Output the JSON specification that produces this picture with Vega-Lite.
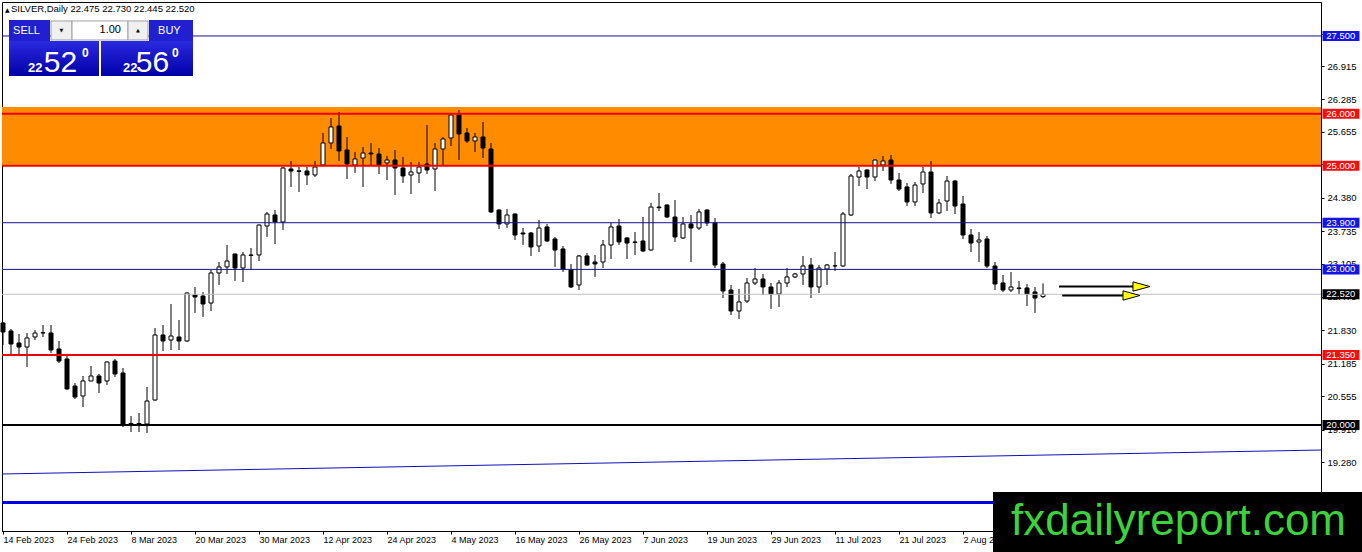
{
  "$schema": "https://vega.github.io/schema/vega-lite/v6.json",
  "width": 1319,
  "height": 529,
  "autosize": {"type": "none"},
  "padding": {"left": 2, "top": 2, "right": 41, "bottom": 21},
  "background": "white",
  "config": {
    "view": {"stroke": "#000000", "strokeWidth": 1},
    "axis": {"labelFont": "Liberation Sans", "labelColor": "#000000", "tickColor": "#000000", "domainColor": "#000000", "tickSize": 3, "grid": false, "labelOverlap": false, "labelFlush": false}
  },
  "datasets": {
    "candles": [
      {"n":0,"d":"2023-02-14","o":21.967,"h":21.986,"l":21.543,"c":21.793},
      {"n":1,"d":"2023-02-15","o":21.813,"h":21.851,"l":21.369,"c":21.562},
      {"n":2,"d":"2023-02-16","o":21.581,"h":21.755,"l":21.369,"c":21.504},
      {"n":3,"d":"2023-02-17","o":21.504,"h":21.774,"l":21.119,"c":21.678},
      {"n":4,"d":"2023-02-20","o":21.697,"h":21.832,"l":21.639,"c":21.774},
      {"n":5,"d":"2023-02-21","o":21.774,"h":21.928,"l":21.697,"c":21.780},
      {"n":6,"d":"2023-02-22","o":21.774,"h":21.928,"l":21.389,"c":21.446},
      {"n":7,"d":"2023-02-23","o":21.466,"h":21.620,"l":21.196,"c":21.234},
      {"n":8,"d":"2023-02-24","o":21.273,"h":21.350,"l":20.680,"c":20.695},
      {"n":9,"d":"2023-02-27","o":20.752,"h":20.810,"l":20.502,"c":20.540},
      {"n":10,"d":"2023-02-28","o":20.560,"h":20.945,"l":20.347,"c":20.849},
      {"n":11,"d":"2023-03-01","o":20.849,"h":21.138,"l":20.840,"c":20.945},
      {"n":12,"d":"2023-03-02","o":20.945,"h":20.984,"l":20.617,"c":20.810},
      {"n":13,"d":"2023-03-03","o":20.849,"h":21.225,"l":20.772,"c":21.215},
      {"n":14,"d":"2023-03-06","o":21.234,"h":21.273,"l":20.926,"c":20.984},
      {"n":15,"d":"2023-03-07","o":21.003,"h":21.099,"l":19.960,"c":20.000},
      {"n":16,"d":"2023-03-08","o":20.000,"h":20.174,"l":19.866,"c":20.030},
      {"n":17,"d":"2023-03-09","o":20.030,"h":20.232,"l":19.866,"c":20.010},
      {"n":18,"d":"2023-03-10","o":20.020,"h":20.733,"l":19.846,"c":20.463},
      {"n":19,"d":"2023-03-13","o":20.482,"h":21.871,"l":20.470,"c":21.736},
      {"n":20,"d":"2023-03-14","o":21.736,"h":21.928,"l":21.427,"c":21.620},
      {"n":21,"d":"2023-03-15","o":21.639,"h":22.333,"l":21.446,"c":21.716},
      {"n":22,"d":"2023-03-16","o":21.697,"h":22.025,"l":21.446,"c":21.620},
      {"n":23,"d":"2023-03-17","o":21.620,"h":22.555,"l":21.601,"c":22.545},
      {"n":24,"d":"2023-03-20","o":22.507,"h":22.661,"l":22.160,"c":22.468},
      {"n":25,"d":"2023-03-21","o":22.487,"h":22.565,"l":22.083,"c":22.333},
      {"n":26,"d":"2023-03-22","o":22.352,"h":22.989,"l":22.198,"c":22.931},
      {"n":27,"d":"2023-03-23","o":22.931,"h":23.143,"l":22.700,"c":23.047},
      {"n":28,"d":"2023-03-24","o":23.047,"h":23.471,"l":22.912,"c":23.162},
      {"n":29,"d":"2023-03-27","o":23.297,"h":23.300,"l":22.777,"c":23.027},
      {"n":30,"d":"2023-03-28","o":23.027,"h":23.336,"l":22.757,"c":23.278},
      {"n":31,"d":"2023-03-29","o":23.278,"h":23.413,"l":22.989,"c":23.270},
      {"n":32,"d":"2023-03-30","o":23.278,"h":23.866,"l":23.162,"c":23.856},
      {"n":33,"d":"2023-03-31","o":23.837,"h":24.107,"l":23.625,"c":24.068},
      {"n":34,"d":"2023-04-03","o":24.049,"h":24.145,"l":23.490,"c":23.914},
      {"n":35,"d":"2023-04-04","o":23.914,"h":24.974,"l":23.760,"c":24.955},
      {"n":36,"d":"2023-04-05","o":24.936,"h":25.090,"l":24.589,"c":24.897},
      {"n":37,"d":"2023-04-06","o":24.900,"h":24.974,"l":24.492,"c":24.890},
      {"n":38,"d":"2023-04-10","o":24.897,"h":24.974,"l":24.627,"c":24.820},
      {"n":39,"d":"2023-04-11","o":24.820,"h":25.090,"l":24.781,"c":24.974},
      {"n":40,"d":"2023-04-12","o":25.013,"h":25.630,"l":25.000,"c":25.437},
      {"n":41,"d":"2023-04-13","o":25.437,"h":25.919,"l":25.321,"c":25.746},
      {"n":42,"d":"2023-04-14","o":25.765,"h":26.035,"l":25.090,"c":25.283},
      {"n":43,"d":"2023-04-17","o":25.302,"h":25.553,"l":24.743,"c":25.032},
      {"n":44,"d":"2023-04-18","o":25.013,"h":25.264,"l":24.859,"c":25.129},
      {"n":45,"d":"2023-04-19","o":25.148,"h":25.360,"l":24.589,"c":25.244},
      {"n":46,"d":"2023-04-20","o":25.244,"h":25.437,"l":25.013,"c":25.225},
      {"n":47,"d":"2023-04-21","o":25.225,"h":25.341,"l":24.839,"c":25.013},
      {"n":48,"d":"2023-04-24","o":25.052,"h":25.187,"l":24.724,"c":25.109},
      {"n":49,"d":"2023-04-25","o":25.109,"h":25.302,"l":24.435,"c":24.955},
      {"n":50,"d":"2023-04-26","o":24.955,"h":25.167,"l":24.666,"c":24.801},
      {"n":51,"d":"2023-04-27","o":24.820,"h":25.071,"l":24.454,"c":24.878},
      {"n":52,"d":"2023-04-28","o":24.859,"h":25.071,"l":24.666,"c":24.974},
      {"n":53,"d":"2023-05-01","o":25.032,"h":25.784,"l":24.839,"c":24.917},
      {"n":54,"d":"2023-05-02","o":24.936,"h":25.437,"l":24.512,"c":25.321},
      {"n":55,"d":"2023-05-03","o":25.321,"h":25.553,"l":25.013,"c":25.514},
      {"n":56,"d":"2023-05-04","o":25.534,"h":26.016,"l":25.379,"c":25.977},
      {"n":57,"d":"2023-05-05","o":25.977,"h":26.073,"l":25.109,"c":25.611},
      {"n":58,"d":"2023-05-08","o":25.630,"h":25.726,"l":25.437,"c":25.476},
      {"n":59,"d":"2023-05-09","o":25.476,"h":25.630,"l":25.264,"c":25.553},
      {"n":60,"d":"2023-05-10","o":25.553,"h":25.842,"l":25.148,"c":25.341},
      {"n":61,"d":"2023-05-11","o":25.321,"h":25.437,"l":24.088,"c":24.107},
      {"n":62,"d":"2023-05-12","o":24.145,"h":24.160,"l":23.779,"c":23.876},
      {"n":63,"d":"2023-05-15","o":23.876,"h":24.165,"l":23.798,"c":24.049},
      {"n":64,"d":"2023-05-16","o":24.068,"h":24.080,"l":23.567,"c":23.663},
      {"n":65,"d":"2023-05-17","o":23.702,"h":23.798,"l":23.471,"c":23.683},
      {"n":66,"d":"2023-05-18","o":23.702,"h":23.721,"l":23.259,"c":23.432},
      {"n":67,"d":"2023-05-19","o":23.451,"h":23.953,"l":23.336,"c":23.798},
      {"n":68,"d":"2023-05-22","o":23.818,"h":23.876,"l":23.529,"c":23.548},
      {"n":69,"d":"2023-05-23","o":23.586,"h":23.625,"l":23.047,"c":23.374},
      {"n":70,"d":"2023-05-24","o":23.394,"h":23.451,"l":22.950,"c":23.008},
      {"n":71,"d":"2023-05-25","o":22.989,"h":23.104,"l":22.642,"c":22.661},
      {"n":72,"d":"2023-05-26","o":22.700,"h":23.278,"l":22.603,"c":23.259},
      {"n":73,"d":"2023-05-29","o":23.259,"h":23.316,"l":23.070,"c":23.085},
      {"n":74,"d":"2023-05-30","o":23.143,"h":23.278,"l":22.854,"c":23.104},
      {"n":75,"d":"2023-05-31","o":23.143,"h":23.567,"l":23.027,"c":23.471},
      {"n":76,"d":"2023-06-01","o":23.471,"h":23.895,"l":23.201,"c":23.818},
      {"n":77,"d":"2023-06-02","o":23.837,"h":23.972,"l":23.471,"c":23.529},
      {"n":78,"d":"2023-06-05","o":23.606,"h":23.625,"l":23.201,"c":23.509},
      {"n":79,"d":"2023-06-06","o":23.529,"h":23.721,"l":23.278,"c":23.520},
      {"n":80,"d":"2023-06-07","o":23.548,"h":24.010,"l":23.336,"c":23.355},
      {"n":81,"d":"2023-06-08","o":23.374,"h":24.281,"l":23.360,"c":24.203},
      {"n":82,"d":"2023-06-09","o":24.203,"h":24.473,"l":24.126,"c":24.190},
      {"n":83,"d":"2023-06-12","o":24.242,"h":24.250,"l":23.991,"c":24.010},
      {"n":84,"d":"2023-06-13","o":24.010,"h":24.338,"l":23.529,"c":23.625},
      {"n":85,"d":"2023-06-14","o":23.606,"h":24.010,"l":23.586,"c":23.876},
      {"n":86,"d":"2023-06-15","o":23.876,"h":24.049,"l":23.143,"c":23.798},
      {"n":87,"d":"2023-06-16","o":23.798,"h":24.165,"l":23.760,"c":24.107},
      {"n":88,"d":"2023-06-19","o":24.145,"h":24.160,"l":23.837,"c":23.895},
      {"n":89,"d":"2023-06-20","o":23.895,"h":23.991,"l":23.027,"c":23.085},
      {"n":90,"d":"2023-06-21","o":23.104,"h":23.143,"l":22.449,"c":22.584},
      {"n":91,"d":"2023-06-22","o":22.603,"h":22.700,"l":22.121,"c":22.198},
      {"n":92,"d":"2023-06-23","o":22.198,"h":22.622,"l":22.044,"c":22.372},
      {"n":93,"d":"2023-06-26","o":22.391,"h":22.834,"l":22.352,"c":22.738},
      {"n":94,"d":"2023-06-27","o":22.738,"h":23.027,"l":22.700,"c":22.815},
      {"n":95,"d":"2023-06-28","o":22.815,"h":22.912,"l":22.507,"c":22.661},
      {"n":96,"d":"2023-06-29","o":22.661,"h":22.738,"l":22.237,"c":22.526},
      {"n":97,"d":"2023-06-30","o":22.526,"h":22.796,"l":22.275,"c":22.738},
      {"n":98,"d":"2023-07-03","o":22.738,"h":23.027,"l":22.661,"c":22.854},
      {"n":99,"d":"2023-07-04","o":22.854,"h":22.931,"l":22.834,"c":22.912},
      {"n":100,"d":"2023-07-05","o":22.912,"h":23.259,"l":22.700,"c":23.066},
      {"n":101,"d":"2023-07-06","o":23.085,"h":23.220,"l":22.449,"c":22.661},
      {"n":102,"d":"2023-07-07","o":22.661,"h":23.085,"l":22.545,"c":23.027},
      {"n":103,"d":"2023-07-10","o":23.008,"h":23.104,"l":22.700,"c":23.085},
      {"n":104,"d":"2023-07-11","o":23.066,"h":23.336,"l":22.969,"c":23.070},
      {"n":105,"d":"2023-07-12","o":23.066,"h":24.107,"l":23.047,"c":24.068},
      {"n":106,"d":"2023-07-13","o":24.049,"h":24.839,"l":24.030,"c":24.801},
      {"n":107,"d":"2023-07-14","o":24.781,"h":24.974,"l":24.608,"c":24.897},
      {"n":108,"d":"2023-07-17","o":24.917,"h":24.930,"l":24.550,"c":24.781},
      {"n":109,"d":"2023-07-18","o":24.781,"h":25.120,"l":24.704,"c":25.109},
      {"n":110,"d":"2023-07-19","o":25.013,"h":25.187,"l":24.897,"c":25.090},
      {"n":111,"d":"2023-07-20","o":25.109,"h":25.206,"l":24.647,"c":24.724},
      {"n":112,"d":"2023-07-21","o":24.724,"h":24.859,"l":24.512,"c":24.550},
      {"n":113,"d":"2023-07-24","o":24.589,"h":24.666,"l":24.222,"c":24.300},
      {"n":114,"d":"2023-07-25","o":24.300,"h":24.685,"l":24.222,"c":24.627},
      {"n":115,"d":"2023-07-26","o":24.647,"h":24.974,"l":24.473,"c":24.878},
      {"n":116,"d":"2023-07-27","o":24.878,"h":25.090,"l":23.991,"c":24.088},
      {"n":117,"d":"2023-07-28","o":24.088,"h":24.357,"l":24.068,"c":24.280},
      {"n":118,"d":"2023-07-31","o":24.319,"h":24.801,"l":24.126,"c":24.704},
      {"n":119,"d":"2023-08-01","o":24.704,"h":24.724,"l":24.068,"c":24.222},
      {"n":120,"d":"2023-08-02","o":24.261,"h":24.415,"l":23.586,"c":23.663},
      {"n":121,"d":"2023-08-03","o":23.663,"h":23.779,"l":23.336,"c":23.509},
      {"n":122,"d":"2023-08-04","o":23.529,"h":23.721,"l":23.143,"c":23.567},
      {"n":123,"d":"2023-08-07","o":23.586,"h":23.644,"l":23.027,"c":23.066},
      {"n":124,"d":"2023-08-08","o":23.066,"h":23.143,"l":22.603,"c":22.719},
      {"n":125,"d":"2023-08-09","o":22.738,"h":22.892,"l":22.565,"c":22.603},
      {"n":126,"d":"2023-08-10","o":22.603,"h":22.950,"l":22.565,"c":22.661},
      {"n":127,"d":"2023-08-11","o":22.642,"h":22.777,"l":22.526,"c":22.630},
      {"n":128,"d":"2023-08-14","o":22.642,"h":22.719,"l":22.295,"c":22.526},
      {"n":129,"d":"2023-08-15","o":22.565,"h":22.661,"l":22.160,"c":22.449},
      {"n":130,"d":"2023-08-16","o":22.475,"h":22.730,"l":22.445,"c":22.520}
    ],
    "levels": [
      {"p":27.5,"kind":"blue"},
      {"p":26.0,"kind":"red"},
      {"p":25.0,"kind":"red"},
      {"p":23.9,"kind":"blue"},
      {"p":23.0,"kind":"blue"},
      {"p":22.52,"kind":"bid"},
      {"p":21.35,"kind":"red"},
      {"p":20.0,"kind":"black"}
    ],
    "trend": [
      {"n":-0.125,"p":19.056},
      {"n":164.75,"p":19.518}
    ],
    "arrows": [
      {"a":"upper","n1":132.0,"n2":141.4,"nh":142.31,"p":22.670},
      {"a":"lower","n1":132.4,"n2":140.1,"nh":141.06,"p":22.497}
    ]
  },
  "layer": [
    {
      "data": {"values": [{}]},
      "mark": {"type": "rect", "color": "#ff8c00"},
      "encoding": {
        "y": {"datum": 26.131, "type": "quantitative", "title": null, "scale": {"domain": [17.957, 28.155], "nice": false, "zero": false, "padding": 0}},
        "y2": {"datum": 25.0}
      }
    },
    {
      "data": {"name": "candles"},
      "mark": {"type": "rule", "color": "#000000", "strokeWidth": 1},
      "encoding": {
        "x": {
          "field": "n", "type": "quantitative", "title": null,
          "scale": {"domain": [-0.125, 164.75], "nice": false, "zero": false, "padding": 0},
          "axis": {
            "orient": "bottom", "title": null,
            "values": [0, 8, 16, 24, 32, 40, 48, 56, 64, 72, 80, 88, 96, 104, 112, 120],
            "labelExpr": "['14 Feb 2023','24 Feb 2023','8 Mar 2023','20 Mar 2023','30 Mar 2023','12 Apr 2023','24 Apr 2023','4 May 2023','16 May 2023','26 May 2023','7 Jun 2023','19 Jun 2023','29 Jun 2023','11 Jul 2023','21 Jul 2023','2 Aug 2023'][datum.value / 8]",
            "labelAlign": "left", "labelBaseline": "top", "labelPadding": 1, "labelFontSize": 9
          }
        },
        "y": {
          "field": "l", "type": "quantitative", "title": null,
          "scale": {"domain": [17.957, 28.155], "nice": false, "zero": false, "padding": 0},
          "axis": {
            "orient": "right", "title": null,
            "values": [19.28, 19.91, 20.555, 21.185, 21.83, 22.475, 23.105, 23.735, 24.38, 25.025, 25.655, 26.285, 26.915, 27.545],
            "format": ".3f", "labelPadding": 3, "labelFontSize": 9.5, "labelBaseline": "middle"
          }
        },
        "y2": {"field": "h"}
      }
    },
    {
      "data": {"name": "candles"},
      "mark": {"type": "bar", "width": 4, "stroke": "#000000", "strokeWidth": 1},
      "encoding": {
        "x": {"field": "n", "type": "quantitative", "title": null},
        "y": {"field": "o", "type": "quantitative", "title": null},
        "y2": {"field": "c"},
        "fill": {"condition": {"test": "datum.c > datum.o", "value": "#ffffff"}, "value": "#000000"}
      }
    },
    {
      "data": {"name": "levels"},
      "mark": {"type": "rule"},
      "encoding": {
        "y": {"field": "p", "type": "quantitative", "title": null},
        "stroke": {"field": "kind", "type": "nominal", "legend": null, "scale": {"domain": ["blue", "red", "black", "bid"], "range": ["#141490", "#f00000", "#000000", "#c0c0c0"]}},
        "strokeWidth": {"condition": {"test": "datum.kind == 'red' || datum.kind == 'black'", "value": 2}, "value": 1}
      }
    },
    {
      "data": {"name": "trend"},
      "mark": {"type": "line", "color": "#1010c0", "strokeWidth": 1},
      "encoding": {
        "x": {"field": "n", "type": "quantitative", "title": null},
        "y": {"field": "p", "type": "quantitative", "title": null}
      }
    },
    {
      "data": {"values": [{}]},
      "mark": {"type": "rule", "color": "#0000e0", "strokeWidth": 3},
      "encoding": {
        "y": {"datum": 18.506, "type": "quantitative", "title": null}
      }
    },
    {
      "data": {"name": "arrows"},
      "mark": {"type": "rule", "color": "#000000", "strokeWidth": 2},
      "encoding": {
        "x": {"field": "n1", "type": "quantitative", "title": null},
        "x2": {"field": "n2"},
        "y": {"field": "p", "type": "quantitative", "title": null}
      }
    },
    {
      "data": {"name": "arrows"},
      "mark": {"type": "point", "shape": "M-1,-0.55L1,0L-1,0.55Z", "size": 289, "filled": true, "fill": "#ffff00", "stroke": "#000000", "strokeWidth": 1, "opacity": 1},
      "encoding": {
        "x": {"field": "nh", "type": "quantitative", "title": null},
        "y": {"field": "p", "type": "quantitative", "title": null}
      }
    },
    {
      "data": {"name": "levels"},
      "mark": {"type": "bar", "size": 10},
      "encoding": {
        "x": {"datum": 164.94, "type": "quantitative", "title": null},
        "x2": {"datum": 169.56},
        "y": {"field": "p", "type": "quantitative", "title": null},
        "fill": {"field": "kind", "type": "nominal", "legend": null, "scale": {"domain": ["blue", "red", "black", "bid"], "range": ["#1414e6", "#f01010", "#000000", "#000000"]}}
      }
    },
    {
      "data": {"name": "levels"},
      "mark": {"type": "text", "align": "left", "baseline": "middle", "font": "Liberation Sans", "fontSize": 9.5, "color": "#ffffff"},
      "encoding": {
        "x": {"datum": 165.4, "type": "quantitative", "title": null},
        "y": {"field": "p", "type": "quantitative", "title": null},
        "text": {"field": "p", "type": "quantitative", "format": ".3f"}
      }
    },
    {
      "data": {"values": [{}]},
      "mark": {"type": "rect", "color": "#000000"},
      "encoding": {
        "x": {"datum": 123.75, "type": "quantitative", "title": null},
        "x2": {"datum": 170},
        "y": {"datum": 18.709, "type": "quantitative", "title": null},
        "y2": {"datum": 17.5}
      }
    },
    {
      "data": {"values": [{}]},
      "mark": {"type": "text", "text": "fxdailyreport.com", "align": "left", "baseline": "alphabetic", "font": "Liberation Sans", "fontSize": 44, "color": "#3cd23c"},
      "encoding": {
        "x": {"datum": 126, "type": "quantitative", "title": null},
        "y": {"datum": 17.88, "type": "quantitative", "title": null}
      }
    },
    {
      "data": {"values": [{}]},
      "mark": {"type": "rect", "color": "#2020d0"},
      "encoding": {
        "x": {"datum": 0.75, "type": "quantitative", "title": null}, "x2": {"datum": 5.875},
        "y": {"datum": 27.808, "type": "quantitative", "title": null}, "y2": {"datum": 27.404}
      }
    },
    {
      "data": {"values": [{}]},
      "mark": {"type": "rect", "color": "#2020d0"},
      "encoding": {
        "x": {"datum": 18.25, "type": "quantitative", "title": null}, "x2": {"datum": 23.75},
        "y": {"datum": 27.808, "type": "quantitative", "title": null}, "y2": {"datum": 27.404}
      }
    },
    {
      "data": {"values": [{}]},
      "mark": {"type": "rect", "fill": "#f0f0f0", "stroke": "#a0a0a0", "strokeWidth": 1},
      "encoding": {
        "x": {"datum": 6.0, "type": "quantitative", "title": null}, "x2": {"datum": 8.625},
        "y": {"datum": 27.789, "type": "quantitative", "title": null}, "y2": {"datum": 27.423}
      }
    },
    {
      "data": {"values": [{}]},
      "mark": {"type": "rect", "fill": "#ffffff", "stroke": "#a0a0a0", "strokeWidth": 1},
      "encoding": {
        "x": {"datum": 8.625, "type": "quantitative", "title": null}, "x2": {"datum": 15.625},
        "y": {"datum": 27.789, "type": "quantitative", "title": null}, "y2": {"datum": 27.423}
      }
    },
    {
      "data": {"values": [{}]},
      "mark": {"type": "rect", "fill": "#f0f0f0", "stroke": "#a0a0a0", "strokeWidth": 1},
      "encoding": {
        "x": {"datum": 15.625, "type": "quantitative", "title": null}, "x2": {"datum": 18.125},
        "y": {"datum": 27.789, "type": "quantitative", "title": null}, "y2": {"datum": 27.423}
      }
    },
    {
      "data": {"values": [{}]},
      "mark": {"type": "rect", "fill": {"gradient": "linear", "x1": 0, "y1": 0, "x2": 0, "y2": 1, "stops": [{"offset": 0, "color": "#2a2ae0"}, {"offset": 1, "color": "#0000a8"}]}},
      "encoding": {
        "x": {"datum": 0.75, "type": "quantitative", "title": null}, "x2": {"datum": 12.0},
        "y": {"datum": 27.404, "type": "quantitative", "title": null}, "y2": {"datum": 26.729}
      }
    },
    {
      "data": {"values": [{}]},
      "mark": {"type": "rect", "fill": {"gradient": "linear", "x1": 0, "y1": 0, "x2": 0, "y2": 1, "stops": [{"offset": 0, "color": "#2a2ae0"}, {"offset": 1, "color": "#0000a8"}]}},
      "encoding": {
        "x": {"datum": 12.25, "type": "quantitative", "title": null}, "x2": {"datum": 23.75},
        "y": {"datum": 27.404, "type": "quantitative", "title": null}, "y2": {"datum": 26.729}
      }
    },
    {
      "data": {"values": [{}]},
      "mark": {"type": "text", "text": "▲", "align": "left", "baseline": "alphabetic", "font": "DejaVu Sans", "fontSize": 6, "color": "#000000"},
      "encoding": {
        "x": {"datum": 0.25, "type": "quantitative", "title": null},
        "y": {"datum": 27.963, "type": "quantitative", "title": null}
      }
    },
    {
      "data": {"values": [{}]},
      "mark": {"type": "text", "text": "SILVER,Daily  22.475 22.730 22.445 22.520", "align": "left", "baseline": "alphabetic", "font": "Liberation Sans", "fontSize": 9.5, "color": "#000000"},
      "encoding": {
        "x": {"datum": 1.0, "type": "quantitative", "title": null},
        "y": {"datum": 27.963, "type": "quantitative", "title": null}
      }
    },
    {
      "data": {"values": [{}]},
      "mark": {"type": "text", "text": "SELL", "align": "center", "baseline": "middle", "font": "Liberation Sans", "fontSize": 11, "color": "#ffffff"},
      "encoding": {
        "x": {"datum": 2.94, "type": "quantitative", "title": null},
        "y": {"datum": 27.596, "type": "quantitative", "title": null}
      }
    },
    {
      "data": {"values": [{}]},
      "mark": {"type": "text", "text": "BUY", "align": "center", "baseline": "middle", "font": "Liberation Sans", "fontSize": 11, "color": "#ffffff"},
      "encoding": {
        "x": {"datum": 20.8, "type": "quantitative", "title": null},
        "y": {"datum": 27.596, "type": "quantitative", "title": null}
      }
    },
    {
      "data": {"values": [{}]},
      "mark": {"type": "text", "text": "▼", "align": "center", "baseline": "middle", "font": "DejaVu Sans", "fontSize": 5, "color": "#000000"},
      "encoding": {
        "x": {"datum": 7.3, "type": "quantitative", "title": null},
        "y": {"datum": 27.606, "type": "quantitative", "title": null}
      }
    },
    {
      "data": {"values": [{}]},
      "mark": {"type": "text", "text": "▲", "align": "center", "baseline": "middle", "font": "DejaVu Sans", "fontSize": 5, "color": "#000000"},
      "encoding": {
        "x": {"datum": 16.875, "type": "quantitative", "title": null},
        "y": {"datum": 27.606, "type": "quantitative", "title": null}
      }
    },
    {
      "data": {"values": [{}]},
      "mark": {"type": "text", "text": "1.00", "align": "right", "baseline": "middle", "font": "Liberation Sans", "fontSize": 11, "color": "#000000"},
      "encoding": {
        "x": {"datum": 14.75, "type": "quantitative", "title": null},
        "y": {"datum": 27.606, "type": "quantitative", "title": null}
      }
    },
    {
      "data": {"values": [{}]},
      "mark": {"type": "text", "text": "22", "align": "left", "baseline": "alphabetic", "font": "Liberation Sans", "fontSize": 13, "fontWeight": "bold", "color": "#ffffff"},
      "encoding": {
        "x": {"datum": 3.125, "type": "quantitative", "title": null},
        "y": {"datum": 26.806, "type": "quantitative", "title": null}
      }
    },
    {
      "data": {"values": [{}]},
      "mark": {"type": "text", "text": "52", "align": "left", "baseline": "alphabetic", "font": "Liberation Sans", "fontSize": 30, "color": "#ffffff"},
      "encoding": {
        "x": {"datum": 5.1, "type": "quantitative", "title": null},
        "y": {"datum": 26.806, "type": "quantitative", "title": null}
      }
    },
    {
      "data": {"values": [{}]},
      "mark": {"type": "text", "text": "0", "align": "left", "baseline": "alphabetic", "font": "Liberation Sans", "fontSize": 12, "fontWeight": "bold", "color": "#ffffff"},
      "encoding": {
        "x": {"datum": 9.875, "type": "quantitative", "title": null},
        "y": {"datum": 27.095, "type": "quantitative", "title": null}
      }
    },
    {
      "data": {"values": [{}]},
      "mark": {"type": "text", "text": "22", "align": "left", "baseline": "alphabetic", "font": "Liberation Sans", "fontSize": 13, "fontWeight": "bold", "color": "#ffffff"},
      "encoding": {
        "x": {"datum": 15.0, "type": "quantitative", "title": null},
        "y": {"datum": 26.806, "type": "quantitative", "title": null}
      }
    },
    {
      "data": {"values": [{}]},
      "mark": {"type": "text", "text": "56", "align": "left", "baseline": "alphabetic", "font": "Liberation Sans", "fontSize": 30, "color": "#ffffff"},
      "encoding": {
        "x": {"datum": 16.6, "type": "quantitative", "title": null},
        "y": {"datum": 26.806, "type": "quantitative", "title": null}
      }
    },
    {
      "data": {"values": [{}]},
      "mark": {"type": "text", "text": "0", "align": "left", "baseline": "alphabetic", "font": "Liberation Sans", "fontSize": 12, "fontWeight": "bold", "color": "#ffffff"},
      "encoding": {
        "x": {"datum": 21.125, "type": "quantitative", "title": null},
        "y": {"datum": 27.095, "type": "quantitative", "title": null}
      }
    }
  ]
}
